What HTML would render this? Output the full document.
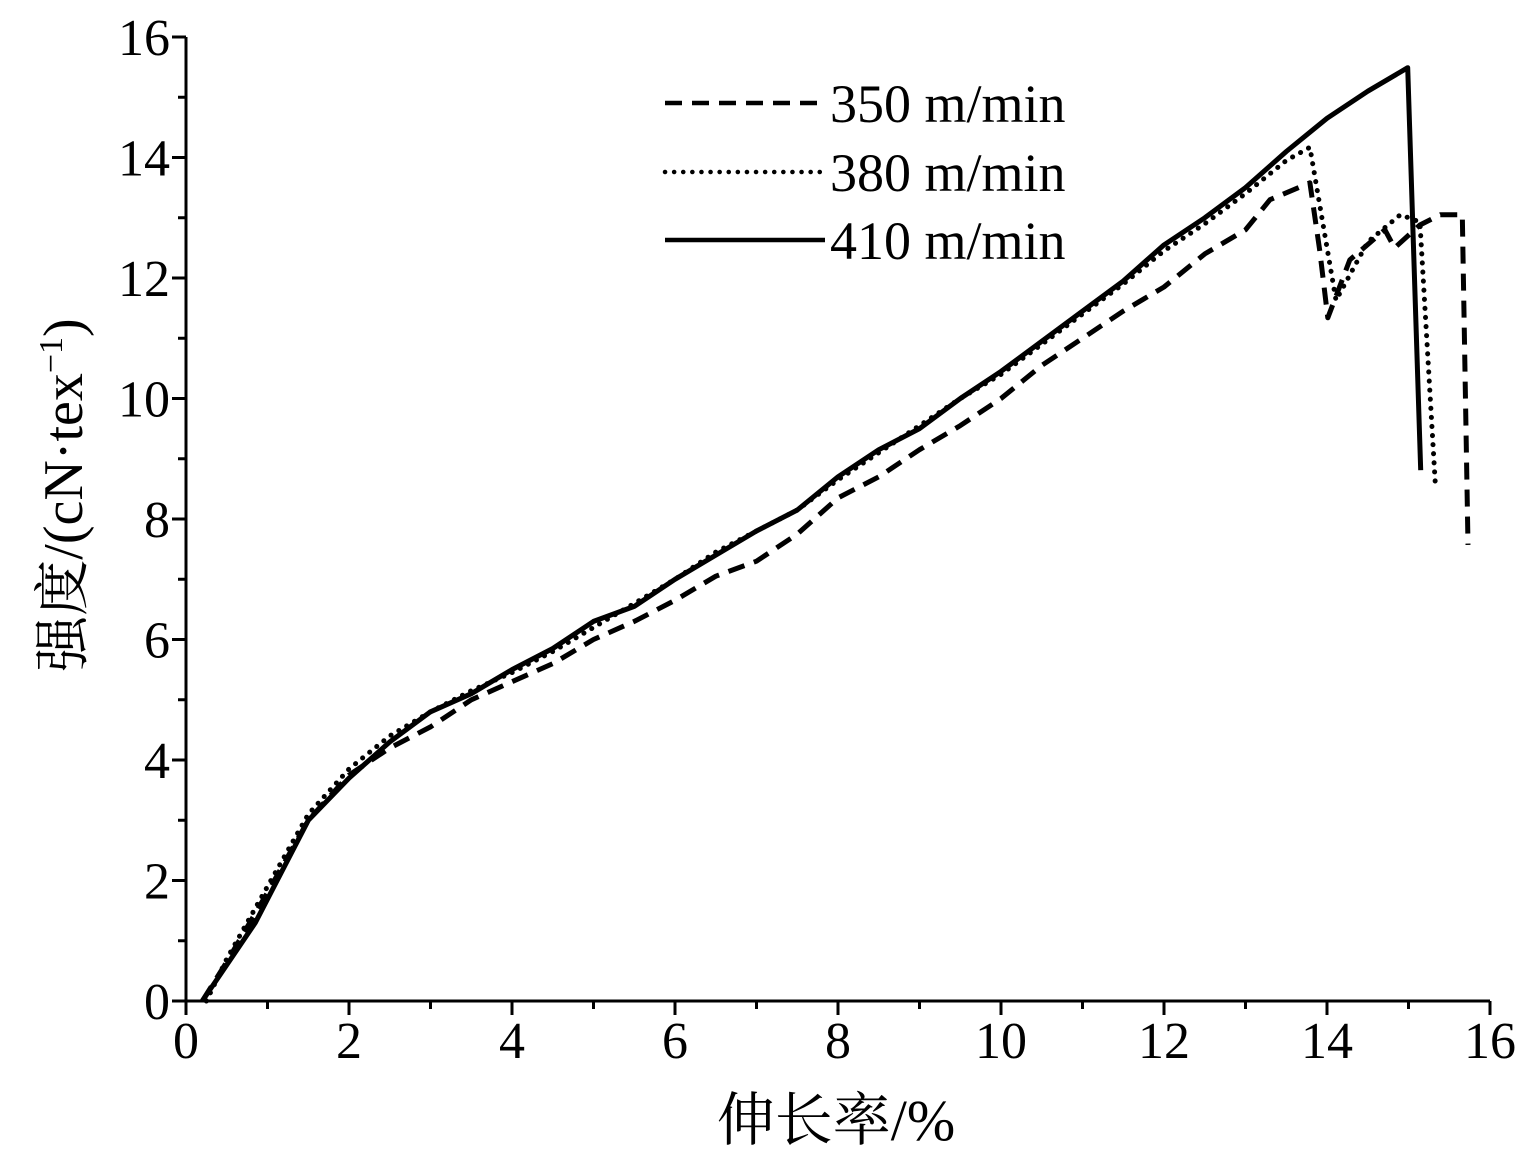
<!DOCTYPE html>
<html><head><meta charset="utf-8"><style>
html,body{margin:0;padding:0;background:#fff;}
svg{display:block;}
text{font-family:"Liberation Serif","Noto Serif CJK SC",serif;fill:#000;}
</style></head><body>
<svg id="s" width="1535" height="1161" xmlns="http://www.w3.org/2000/svg">
<g id="ax" stroke="#000" stroke-width="3" fill="none">
<line x1="186" y1="1001" x2="1490" y2="1001"/>
<line x1="186" y1="1001" x2="186" y2="37"/>
</g>
<g id="ticks"></g>
<g id="lines" fill="none" stroke="#000" stroke-width="5" stroke-linejoin="round"></g>
<g font-size="54">
<line x1="665" y1="103" x2="825" y2="103" stroke="#000" stroke-width="4.5" stroke-dasharray="17,10"/>
<line x1="665" y1="172" x2="825" y2="172" stroke="#000" stroke-width="4.5" stroke-dasharray="0.1,9" stroke-linecap="round"/>
<line x1="665" y1="240" x2="825" y2="240" stroke="#000" stroke-width="4.5"/>
<text x="830" y="122">350 m/min</text>
<text x="830" y="191">380 m/min</text>
<text x="830" y="259">410 m/min</text>
</g>
<text x="836" y="1140" font-size="58" text-anchor="middle">伸长率/%</text>
<text transform="translate(82,495) rotate(-90)" font-size="56" text-anchor="middle">强度/(cN·tex<tspan font-size="34" dy="-20">−1</tspan><tspan dy="20">)</tspan></text>
</svg>
<script>
var X=function(v){return 186+v*81.5},Y=function(v){return 1001-v*60.25};
var t='',ns='';
for(var i=0;i<=16;i++){var x=X(i);t+='<line x1="'+x+'" y1="1001" x2="'+x+'" y2="'+(i%2?1009:1015)+'" stroke="#000" stroke-width="3"/>';
if(i%2==0)ns+='<text x="'+x+'" y="1058" font-size="52" text-anchor="middle">'+i+'</text>';}
for(var i=0;i<=16;i++){var y=Y(i);t+='<line x1="186" y1="'+y+'" x2="'+(i%2?178:172)+'" y2="'+y+'" stroke="#000" stroke-width="3"/>';
if(i%2==0)ns+='<text x="170" y="'+(y+18)+'" font-size="52" text-anchor="end">'+i+'</text>';}
document.getElementById('ticks').innerHTML=t+ns;
var S=[[0.2,0],[0.5,0.6],[0.85,1.3],[1.5,3.0],[2,3.7],[2.5,4.3],[3,4.8],[3.5,5.1],[4,5.5],[4.5,5.85],[5,6.3],[5.5,6.55],[6,7.0],[6.5,7.4],[7,7.8],[7.5,8.15],[8,8.7],[8.5,9.15],[9,9.5],[9.5,10.0],[10,10.45],[10.5,10.95],[11,11.45],[11.5,11.95],[12,12.55],[12.5,13.0],[13,13.5],[13.5,14.1],[14,14.65],[14.5,15.1],[14.99,15.49],[15.15,8.81]];
var D=[[0.25,0],[0.5,0.7],[1,1.9],[1.5,3.1],[2,3.85],[2.5,4.4],[3,4.8],[3.5,5.15],[4,5.45],[4.5,5.8],[5,6.2],[5.5,6.6],[6,7.0],[6.5,7.45],[7,7.8],[7.5,8.15],[8,8.65],[8.5,9.1],[9,9.55],[9.5,10.0],[10,10.4],[10.5,10.9],[11,11.4],[11.5,11.9],[12,12.45],[12.5,12.9],[13,13.4],[13.5,13.95],[13.79,14.17],[14.11,11.63],[14.5,12.6],[14.9,13.05],[15.14,12.93],[15.33,8.56]];
var Dd=[[0.2,0],[0.5,0.65],[1,1.8],[1.5,3.0],[2,3.75],[2.5,4.2],[3,4.55],[3.5,5.0],[4,5.3],[4.5,5.6],[5,6.0],[5.5,6.3],[6,6.65],[6.5,7.05],[7,7.3],[7.5,7.75],[8,8.35],[8.5,8.7],[9,9.15],[9.5,9.55],[10,10.0],[10.5,10.55],[11,11.0],[11.5,11.45],[12,11.85],[12.5,12.4],[13,12.8],[13.3,13.3],[13.79,13.58],[13.91,12.46],[14.01,11.34],[14.28,12.3],[14.71,12.8],[14.83,12.5],[15.14,12.88],[15.39,13.05],[15.66,13.05],[15.73,7.57]];
function P(a,da,cap){return '<polyline points="'+a.map(function(p){return X(p[0]).toFixed(1)+','+Y(p[1]).toFixed(1)}).join(' ')+'"'+(da?' stroke-dasharray="'+da+'"':'')+(cap?' stroke-linecap="round"':'')+'/>'}
document.getElementById('lines').innerHTML=P(Dd,'17,10')+P(D,'0.1,9',1)+P(S);
</script>
</body></html>
